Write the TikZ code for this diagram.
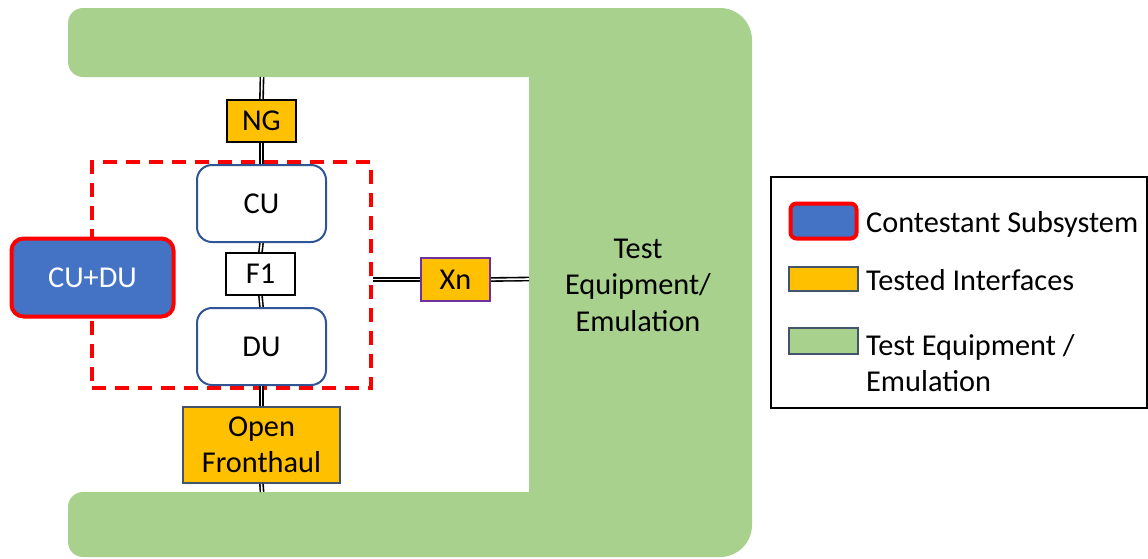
\documentclass[tikz,border=0pt]{standalone}
\usepackage{fontspec}
\setmainfont{Carlito}
\definecolor{tegreen}{HTML}{A9D18E}
\definecolor{ifor}{HTML}{FFC000}
\definecolor{cublue}{RGB}{47,85,151}
\definecolor{subblue}{HTML}{4472C4}
\definecolor{xnpurple}{HTML}{7030A0}
\definecolor{slate}{HTML}{44546A}
\definecolor{dred}{HTML}{FF0000}
\begin{document}
\begin{tikzpicture}[x=1pt,y=-1pt,
  every node/.style={font=\fontsize{30.3}{36.5}\selectfont, inner sep=0pt, align=center},
  unitbox/.style={draw=cublue, line width=2pt, fill=white, rounded corners=15pt, minimum width=129pt, minimum height=77pt},
  ifbox/.style={draw=black, line width=2pt, fill=ifor, minimum width=69pt, minimum height=42pt},
  dbl/.style={draw=black, line width=1.6pt, double=white, double distance=1.6pt},
  subbox/.style={draw=dred, line width=4pt, fill=subblue, rounded corners=12pt},
  legtext/.style={anchor=west, align=left}
]
\useasboundingbox (0,0) rectangle (1148,558);

% green test equipment shape
\fill[tegreen] (68,40) [rounded corners=15pt] -- (68,8) -- (400,8) [rounded corners=32pt] -- (752,8) -- (752,557) -- (400,557) [rounded corners=15pt] -- (68,557) -- (68,492) -- (300,492) [sharp corners] -- (529,492) -- (529,77) -- (300,77) [rounded corners=15pt] -- (68,77) -- cycle;
\coordinate (gtop) at (262,77);
\coordinate (gbot) at (262,492);
\coordinate (gright) at (529,279);
\node (te) at (638,285) {Test\\Equipment/\\Emulation};

% dashed subsystem frame
\node[draw=dred, line width=4pt, dash pattern=on 14pt off 9pt, minimum width=279pt, minimum height=226pt] (sub) at (231.5,275) {};

% nodes
\node[ifbox] (ng) at (261.5,121) {NG};
\node[unitbox] (cu) at (261.5,203.5) {CU};
\node[ifbox, fill=white] (f1) at (260.5,274) {F1};
\node[unitbox] (du) at (261.5,346.5) {DU};
\node[ifbox, draw=slate, minimum width=157pt, minimum height=76pt] (of) at (261.5,445) {Open\\Fronthaul};
\node[ifbox, draw=xnpurple, minimum height=43pt] (xn) at (455.5,279.5) {Xn};
\node[subbox, minimum width=162pt, minimum height=78pt, text=white] (cudu) at (92.5,277.5) {CU+DU};

% connectors
\draw[dbl] (gtop) -- (ng.north);
\draw[dbl] (ng.south) -- (cu.north);
\draw[dbl] (cu.south) -- (f1.north);
\draw[dbl] (f1.south) -- (du.north);
\draw[dbl] (du.south) -- (of.north);
\draw[dbl] (of.south) -- (gbot);
\draw[dbl] (sub.east |- xn.west) -- (xn.west);
\draw[dbl] (xn.east) -- (gright);

% legend
\node[draw=black, line width=2pt, minimum width=376pt, minimum height=231pt] (legend) at (959,292.5) {};
\node[subbox, rounded corners=6pt, minimum width=66pt, minimum height=35pt] (sw1) at (823.5,221) {};
\node[draw=slate, line width=2pt, fill=ifor, minimum width=69pt, minimum height=24pt] (sw2) at (823.5,279) {};
\node[draw=slate, line width=2pt, fill=tegreen, minimum width=69pt, minimum height=26pt] (sw3) at (823.5,341) {};
\node[legtext] (l1) at (866,224) {Contestant Subsystem};
\node[legtext] (l2) at (866,280) {Tested Interfaces};
\node[legtext] (l3) at (866,363) {Test Equipment /\\Emulation};
\end{tikzpicture}
\end{document}
